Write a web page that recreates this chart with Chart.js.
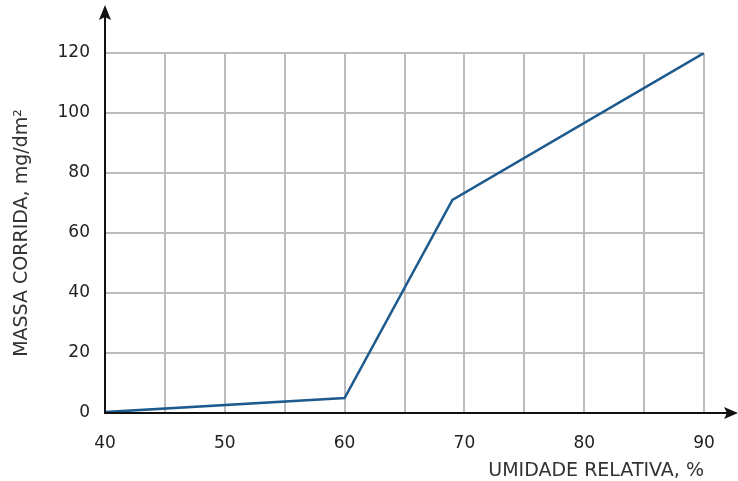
<!DOCTYPE html>
<html>
<head>
<meta charset="utf-8">
<script src="https://cdn.jsdelivr.net/npm/chart.js@4"></script>
<style>
html,body{margin:0;padding:0;background:#fff;}
#wrap{width:738px;height:481px;position:relative;}
</style>
</head>
<body>
<div id="wrap"><canvas id="c" width="738" height="481"></canvas></div>
<script>
// Data
const umidade = [40, 60, 69, 90];          // UMIDADE RELATIVA, %
const massa   = [0.3, 5, 71, 120];         // MASSA CORRIDA, mg/dm²
const xTicks  = [40, 50, 60, 70, 80, 90];
const yTicks  = [0, 20, 40, 60, 80, 100, 120];
const xTitle  = 'UMIDADE RELATIVA, %';
const yTitle  = 'MASSA CORRIDA, mg/dm²';

const points = umidade.map((u, i) => ({x: u, y: massa[i]}));
const FONT = 'DejaVu Sans, Verdana, sans-serif';

const axisArrows = {
  id: 'axisArrows',
  afterDatasetsDraw(chart) {
    const {ctx, scales: {x, y}} = chart;
    const x0 = x.getPixelForValue(40);
    const y0 = y.getPixelForValue(0);
    ctx.save();
    ctx.strokeStyle = '#111';
    ctx.fillStyle = '#111';
    ctx.lineWidth = 2;
    // y axis
    ctx.beginPath();
    ctx.moveTo(x0, y0 + 1);
    ctx.lineTo(x0, 14);
    ctx.stroke();
    ctx.beginPath();
    ctx.moveTo(x0, 5);
    ctx.lineTo(x0 - 6, 20);
    ctx.lineTo(x0, 17);
    ctx.lineTo(x0 + 6, 20);
    ctx.closePath();
    ctx.fill();
    // x axis
    ctx.beginPath();
    ctx.moveTo(x0 - 1, y0);
    ctx.lineTo(730, y0);
    ctx.stroke();
    ctx.beginPath();
    ctx.moveTo(738, y0);
    ctx.lineTo(724, y0 - 6);
    ctx.lineTo(727, y0);
    ctx.lineTo(724, y0 + 6);
    ctx.closePath();
    ctx.fill();
    ctx.restore();
  }
};

new Chart(document.getElementById('c'), {
  type: 'scatter',
  data: {
    datasets: [{
      data: points,
      showLine: true,
      borderColor: '#1d5a8e',
      borderWidth: 2.5,
      pointRadius: 0,
      fill: false,
      tension: 0
    }]
  },
  options: {
    responsive: false,
    animation: false,
    devicePixelRatio: 1,
    layout: {padding: {top: 53, right: 34, left: 0, bottom: 0}},
    plugins: {legend: {display: false}, tooltip: {enabled: false}},
    scales: {
      x: {
        type: 'linear',
        min: 40, max: 90,
        afterFit(s) { s.height = 68; },
        afterBuildTicks(s) {
          s.ticks = [];
          for (let v = 40; v <= 90; v += 5) s.ticks.push({value: v});
        },
        grid: {color: '#bcbcbc', lineWidth: 2, drawTicks: false},
        border: {display: false},
        ticks: {
          padding: 20,
          color: '#222',
          font: {family: FONT, size: 17},
          maxRotation: 0,
          autoSkip: false,
          callback: v => xTicks.includes(v) ? String(v) : ''
        },
        title: {
          display: true, text: xTitle, align: 'end',
          color: '#333', font: {family: FONT, size: 19, lineHeight: 1},
          padding: {top: 0, bottom: 0}
        }
      },
      y: {
        type: 'linear',
        min: 0, max: 120,
        afterFit(s) { s.width = 105; },
        afterBuildTicks(s) { s.ticks = yTicks.map(v => ({value: v})); },
        grid: {color: '#bcbcbc', lineWidth: 2, drawTicks: false},
        border: {display: false},
        ticks: {
          padding: 15,
          color: '#222',
          font: {family: FONT, size: 17}
        },
        title: {
          display: true, text: yTitle,
          color: '#333', font: {family: FONT, size: 19, lineHeight: 1},
          padding: {top: 13, bottom: 0}
        }
      }
    }
  },
  plugins: [axisArrows]
});
</script>
</body>
</html>
